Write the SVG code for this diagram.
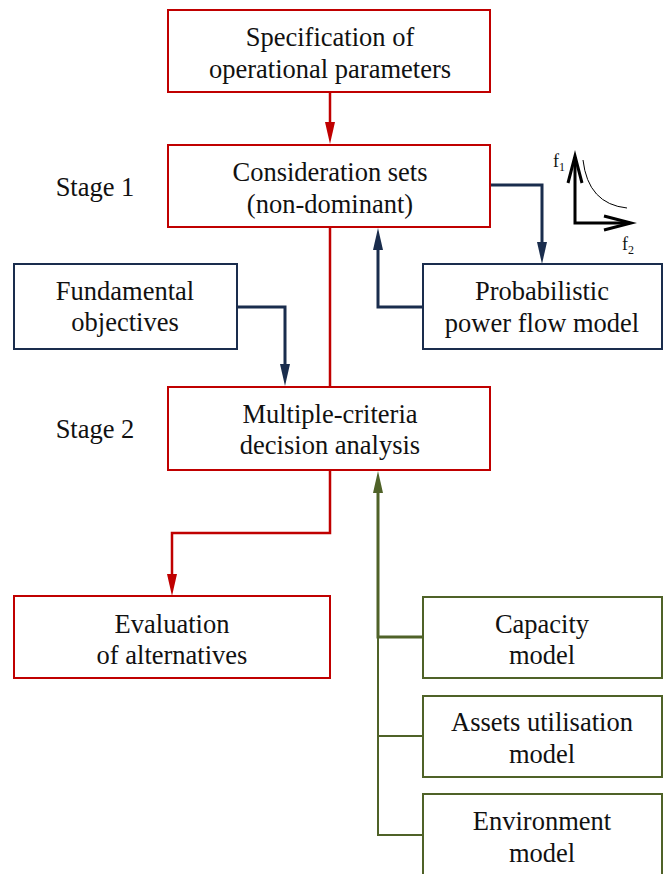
<svg xmlns="http://www.w3.org/2000/svg" width="664" height="874" viewBox="0 0 664 874" font-family="'Liberation Serif', 'Times New Roman', 'DejaVu Serif', serif">
<style>
text{font-family:'Liberation Serif','Times New Roman','DejaVu Serif',serif;font-size:26.5px;fill:#111;text-anchor:middle}
.red{fill:#fff;stroke:#c00000;stroke-width:2}
.navy{fill:#fff;stroke:#1a2d4d;stroke-width:2}
.green{fill:#fff;stroke:#4f6228;stroke-width:2}
.cr{fill:none;stroke:#c00000;stroke-width:2.5}
.cn{fill:none;stroke:#1a2d4d;stroke-width:3}
.cg{fill:none;stroke:#4f6228;stroke-width:3}
.cg2{fill:none;stroke:#4f6228;stroke-width:2}
.ax{fill:none;stroke:#000;stroke-width:3}
.sm{font-size:18px}
.sub{font-size:12px}
</style>
<g id="connectors">
<line class="cr" x1="330" y1="92" x2="330" y2="125"/>
<path d="M325,122 L335,122 L330,144 Z" fill="#c00000"/>
<line class="cr" x1="330" y1="227" x2="330" y2="387"/>
<path class="cn" d="M490,185 H542 V245"/>
<path d="M537,242 L547,242 L542,264 Z" fill="#1a2d4d"/>
<path class="cn" d="M423,307 H378 V247"/>
<path d="M373,250 L383,250 L378,228 Z" fill="#1a2d4d"/>
<path class="cn" d="M237,307 H285 V367"/>
<path d="M280,364 L290,364 L285,386 Z" fill="#1a2d4d"/>
<path class="cr" d="M330,470 V533 H172 V577"/>
<path d="M167,574 L177,574 L172,596 Z" fill="#c00000"/>
<path class="cg" d="M378,490 V637 H423"/>
<path d="M373,493 L383,493 L378,471 Z" fill="#4f6228"/>
<path class="cg2" d="M378,637 V835 H423 M378,736 H423"/>
</g>
<g id="spec"><rect class="red" x="168" y="10" width="322" height="82"/><text x="330" y="46">Specification of</text><text x="330" y="78">operational parameters</text></g>
<g id="consideration"><rect class="red" x="168" y="145" width="322" height="82"/><text x="330" y="181">Consideration sets</text><text x="330" y="213">(non-dominant)</text></g>
<g id="stage1"><text x="95" y="196">Stage 1</text></g>
<g id="stage2"><text x="95" y="438">Stage 2</text></g>
<g id="pareto">
<path class="ax" d="M575,157 V223 H630"/>
<path fill="none" stroke="#000" stroke-width="3" d="M568,183 L575,156 L582,183 M604,216 L631,223 L604,230"/>
<path fill="none" stroke="#000" stroke-width="1" d="M583,160 Q588,204 627,208"/>
<text x="559" y="167" class="sm">f<tspan class="sub" dy="4">1</tspan></text>
<text x="628" y="250" class="sm">f<tspan class="sub" dy="4">2</tspan></text>
</g>
<g id="fundamental"><rect class="navy" x="14" y="264" width="223" height="85"/><text x="125" y="300">Fundamental</text><text x="125" y="331">objectives</text></g>
<g id="probabilistic"><rect class="navy" x="423" y="264" width="239" height="85"/><text x="542" y="300">Probabilistic</text><text x="542" y="332">power flow model</text></g>
<g id="mcda"><rect class="red" x="168" y="387" width="322" height="83"/><text x="330" y="423">Multiple-criteria</text><text x="330" y="454">decision analysis</text></g>
<g id="evaluation"><rect class="red" x="14" y="596" width="316" height="82"/><text x="172" y="633">Evaluation</text><text x="172" y="664">of alternatives</text></g>
<g id="capacity"><rect class="green" x="423" y="597" width="239" height="81"/><text x="542" y="633">Capacity</text><text x="542" y="664">model</text></g>
<g id="assets"><rect class="green" x="423" y="696" width="239" height="81"/><text x="542" y="731">Assets utilisation</text><text x="542" y="763">model</text></g>
<g id="environment"><rect class="green" x="423" y="794" width="239" height="90"/><text x="542" y="830">Environment</text><text x="542" y="862">model</text></g>
</svg>
